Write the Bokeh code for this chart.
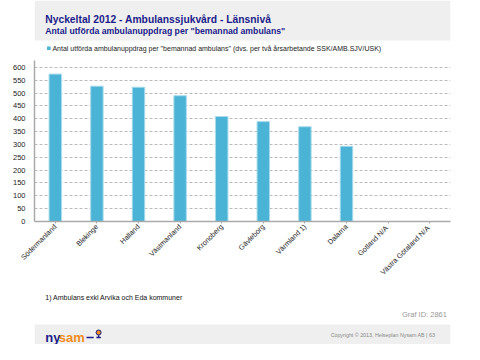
from bokeh.plotting import figure
from bokeh.models import SingleIntervalTicker, Range1d
from bokeh.layouts import column
from bokeh.core.properties import value
from bokeh.embed import file_html
from bokeh.resources import INLINE
import math

categories = ["Södermanland", "Blekinge", "Halland", "Västmanland", "Kronoberg",
              "Gävleborg", "Värmland 1)", "Dalarna", "Gotland  N/A", "Västra Götaland  N/A"]
values = [574, 527, 523, 490, 409, 389, 369, 293, 0, 0]
series_name = 'Antal utförda ambulanuppdrag per "bemannad ambulans" (dvs. per två årsarbetande SSK/AMB.SJV/USK)'
title = "Nyckeltal 2012 - Ambulanssjukvård - Länsnivå"
subtitle = 'Antal utförda ambulanuppdrag per "bemannad ambulans"'
footnote = "1) Ambulans exkl Arvika och Eda kommuner"
graf_id = "Graf ID: 2861"
copyright_text = "Copyright  © 2013,  Helseplan  Nysam  AB   |   63"

FONT = "Liberation Sans"
W = 464
NAVY = "#1c1c8a"
ORANGE = "#f08c1e"
BAR = "#4bb4d6"
BAND = "#efefef"


def panel(h):
    f = figure(width=W, height=h, x_range=Range1d(0, W), y_range=Range1d(h, 0),
               x_axis_type=None, y_axis_type=None, output_backend="svg",
               toolbar_location=None, min_border=0)
    f.outline_line_color = None
    f.grid.grid_line_color = None
    f.background_fill_color = "white"
    f.border_fill_color = "white"
    return f


def txt(f, s, x, y, size, color="#000000", style="normal", align="left", baseline="alphabetic"):
    f.text(x=[x], y=[y], text=[s], text_font=value(FONT), text_font_size=size,
           text_color=color, text_font_style=style, text_align=align, text_baseline=baseline)


# ---------------- header ----------------
HH = 56
head = panel(HH)
head.quad(left=[0], right=[W], top=[0], bottom=[40], fill_color=BAND, line_color=None)
txt(head, title, 12, 19, "10.3px", NAVY, "bold")
txt(head, subtitle, 12, 30.3, "8.7px", NAVY, "bold")
head.quad(left=[14], right=[18], top=[46], bottom=[49.6], fill_color=BAR, line_color=None)
txt(head, series_name, 20, 48, "7px", "#222222", baseline="middle")

# ---------------- main chart ----------------
MH = 226
p = figure(width=W, height=MH, x_range=categories, y_range=Range1d(0, 627),
           output_backend="svg", toolbar_location=None,
           min_border_left=34, min_border_right=14, min_border_top=4, min_border_bottom=60)
p.outline_line_color = None
p.background_fill_color = "white"
p.border_fill_color = "white"

p.vbar(x=categories, top=values, width=0.3, fill_color=BAR, line_color="#a9dcec", line_width=1)

p.yaxis.ticker = SingleIntervalTicker(interval=50)
p.yaxis.axis_line_color = "#aaaaaa"
p.yaxis.axis_line_width = 1.5
p.yaxis.major_tick_line_color = None
p.yaxis.minor_tick_line_color = None
p.yaxis.major_label_text_font = FONT
p.yaxis.major_label_text_font_size = "7.5px"
p.yaxis.major_label_text_color = "#222222"
p.yaxis.major_label_standoff = 3

p.xaxis.axis_line_color = "#aaaaaa"
p.xaxis.axis_line_width = 1.5
p.xaxis.major_tick_line_color = "#aaaaaa"
p.xaxis.major_tick_out = 2
p.xaxis.major_tick_in = 0
p.xaxis.minor_tick_line_color = None
p.xaxis.major_label_orientation = math.pi / 4
p.xaxis.major_label_text_font = FONT
p.xaxis.major_label_text_font_size = "7.2px"
p.xaxis.major_label_text_color = "#222222"
p.xaxis.major_label_standoff = 2

p.xgrid.grid_line_color = None
p.ygrid.grid_line_color = "#bbbbbb"
p.ygrid.grid_line_dash = "3 2"
p.ygrid.grid_line_width = 1

# ---------------- footer ----------------
FH = 62
foot = panel(FH)
foot.quad(left=[0], right=[W], top=[42], bottom=[FH], fill_color=BAND, line_color=None)
txt(foot, footnote, 12, 15, "7px", "#111111", baseline="middle")
txt(foot, graf_id, 460, 32, "7.5px", "#999999", align="right", baseline="middle")
txt(foot, "ny", 12, 55, "13px", NAVY, "bold")
txt(foot, "sam", 27, 55, "13px", ORANGE, "bold")
foot.segment(x0=[58], y0=[55], x1=[66], y1=[55], line_color=NAVY, line_width=1.5)
foot.circle(x=[71.5], y=[50], radius=2.8, fill_color=ORANGE, line_color=NAVY, line_width=1)
foot.segment(x0=[69], y0=[55], x1=[74], y1=[55], line_color=NAVY, line_width=1.5)
foot.segment(x0=[71.5], y0=[52.8], x1=[71.5], y1=[55], line_color=NAVY, line_width=1.5)
txt(foot, copyright_text, 460, 52, "5.3px", "#888888", align="right", baseline="middle")

layout = column(head, p, foot, spacing=0)
open("out.html", "w").write(file_html(layout, INLINE))
